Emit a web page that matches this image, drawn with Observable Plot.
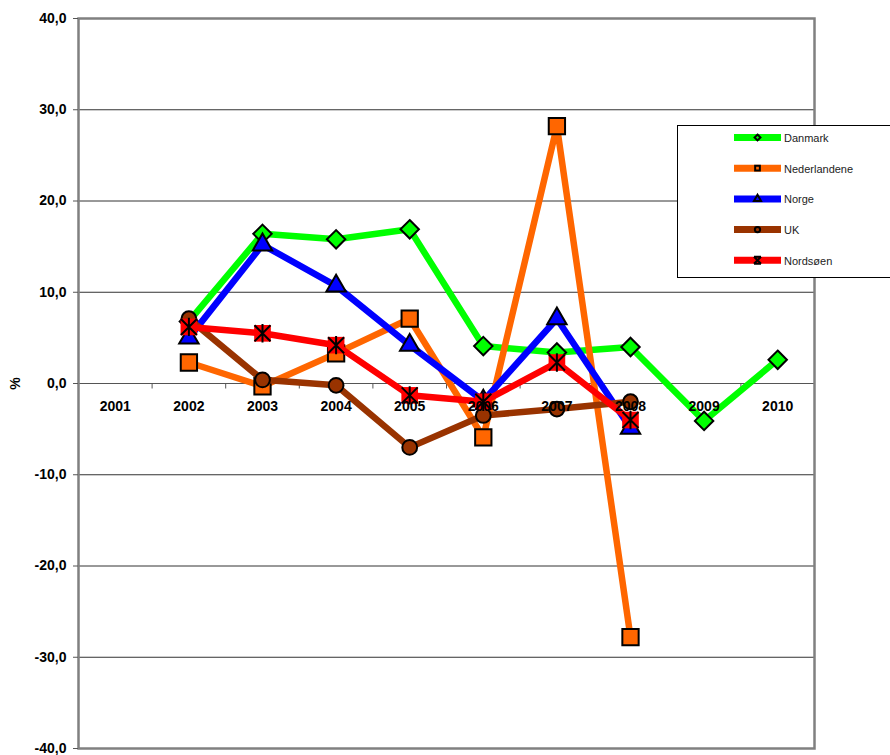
<!DOCTYPE html>
<html><head><meta charset="utf-8">
<script src="https://cdn.jsdelivr.net/npm/d3@7"></script>
<script src="https://cdn.jsdelivr.net/npm/@observablehq/plot@0.6"></script>
<style>
body{margin:0;background:#fff;font-family:"Liberation Sans",Arial,sans-serif;overflow:hidden}
#wrap{position:relative;width:890px;height:755px;overflow:hidden}
#legend{position:absolute;left:677px;top:125px;width:240px;height:153px;border:1px solid #000;background:#fff;box-sizing:border-box}
</style>
</head><body>
<div id="wrap"><div id="chart"></div><div id="legend"></div></div>
<script>
// ---- data ----
const years = [2001, 2002, 2003, 2004, 2005, 2006, 2007, 2008, 2009, 2010];
const seriesNames = ["Danmark", "Nederlandene", "Norge", "UK", "Nordsøen"];
const danmark      = [null, 6.8, 16.4, 15.8, 16.9, 4.1, 3.4, 4.0, -4.1, 2.6];
const nederlandene = [null, 2.3, -0.3, 3.3, 7.1, -5.9, 28.2, -27.8, null, null];
const norge        = [null, 5.0, 15.2, 10.7, 4.2, -1.9, 7.1, -4.9, null, null];
const uk           = [null, 7.1, 0.4, -0.2, -7.0, -3.5, -2.8, -2.0, null, null];
const nordsoen     = [null, 6.2, 5.5, 4.2, -1.3, -2.0, 2.3, -4.0, null, null];
const yTicks = [-40, -30, -20, -10, 0, 10, 20, 30, 40];
const yLabel = "%";

// ---- styling ----
const colors = ["#00FF00", "#FF6600", "#0000FF", "#993300", "#FF0000"];
const values = [danmark, nederlandene, norge, uk, nordsoen];

const asterisk = {draw(ctx, size) {
  const r = Math.sqrt(size / Math.PI);
  ctx.moveTo(-r, -r); ctx.lineTo(r, r);
  ctx.moveTo(-r, r); ctx.lineTo(r, -r);
  ctx.moveTo(0, -r * 1.15); ctx.lineTo(0, r * 1.15);
}};
const tickDown = {draw(ctx) { ctx.moveTo(0, 0); ctx.lineTo(0, 5); }};

const markerSpecs = [
  [{symbol: "diamond2", r: 8.3, stroke: "#000", strokeWidth: 2}],
  [{symbol: "square", r: 9.2, stroke: "#000", strokeWidth: 2}],
  [{symbol: "triangle", r: 7.2, stroke: "#000", strokeWidth: 2}],
  [{symbol: "circle", r: 7.4, stroke: "#000", strokeWidth: 2}],
  [{symbol: "square", r: 9.4, stroke: "none"}, {symbol: asterisk, r: 8, fill: "none", stroke: "#000", strokeWidth: 2}]
];

const seriesData = values.map((vals, si) =>
  years.map((yr, i) => ({series: seriesNames[si], year: yr, value: vals[i]})).filter(d => d.value != null));

const boundaries = [years[0] - 0.5, ...years.map(y => y + 0.5)];
const grid = yTicks.filter(t => t !== 0 && Math.abs(t) !== 40);
const fmt = d => d.toFixed(1).replace(".", ",");

const marks = [
  Plot.ruleY(grid, {stroke: "#333", strokeWidth: 1}),
  Plot.ruleY([0], {stroke: "#555", strokeWidth: 1}),
  Plot.dot(boundaries, {x: d => d, y: 0, symbol: tickDown, fill: "none", stroke: "#555", strokeWidth: 1}),
  Plot.frame({stroke: "#808080", strokeWidth: 2.5}),
  Plot.axisY(yTicks, {tickSize: 5, tickPadding: 7, tickFormat: fmt, fontWeight: "bold", fontSize: 14,
    stroke: "#555", fill: "#000", label: yLabel, labelAnchor: "center", labelOffset: 68, labelArrow: "none"})
];
seriesData.forEach((data, si) => {
  marks.push(Plot.line(data, {x: "year", y: "value", stroke: colors[si], strokeWidth: 6.5, strokeLinejoin: "round"}));
  markerSpecs[si].forEach(spec => {
    marks.push(Plot.dot(data, {x: "year", y: "value", fill: colors[si], ...spec}));
  });
});
marks.push(Plot.text(years, {x: d => d, y: 0, text: d => String(d), dy: 23, fontWeight: "bold", fontSize: 14, fill: "#000"}));

const chart = Plot.plot({
  width: 890, height: 755,
  marginLeft: 78, marginRight: 76, marginTop: 18, marginBottom: 7,
  x: {domain: [years[0] - 0.5, years[years.length - 1] + 0.5], axis: null},
  y: {domain: [yTicks[0], yTicks[yTicks.length - 1]], axis: null},
  style: {fontFamily: "'Liberation Sans', Arial, sans-serif", background: "#fff", color: "#000"},
  marks
});
document.getElementById("chart").appendChild(chart);

// ---- legend ----
const ns = "http://www.w3.org/2000/svg";
const lsvg = document.createElementNS(ns, "svg");
lsvg.setAttribute("width", 240); lsvg.setAttribute("height", 153);
const sym = [d3.symbolDiamond2, d3.symbolSquare, d3.symbolTriangle, d3.symbolCircle, null];
seriesNames.forEach((name, i) => {
  const cy = 11.5 + i * 30.7;
  const g = document.createElementNS(ns, "g");
  g.setAttribute("transform", `translate(0,${cy})`);
  const ln = document.createElementNS(ns, "line");
  ln.setAttribute("x1", 56); ln.setAttribute("x2", 103); ln.setAttribute("y1", 0); ln.setAttribute("y2", 0);
  ln.setAttribute("stroke", colors[i]); ln.setAttribute("stroke-width", 7);
  g.appendChild(ln);
  const p = document.createElementNS(ns, "path");
  if (sym[i]) {
    p.setAttribute("d", d3.symbol(sym[i], 22)());
    p.setAttribute("fill", colors[i]);
  } else {
    p.setAttribute("d", "M-3.5,-3.5L3.5,3.5M-3.5,3.5L3.5,-3.5M-3.5,-3.5H3.5M-3.5,3.5H3.5");
    p.setAttribute("fill", "none");
  }
  p.setAttribute("stroke", "#000"); p.setAttribute("stroke-width", 2);
  p.setAttribute("transform", "translate(79.5,0)");
  g.appendChild(p);
  const t = document.createElementNS(ns, "text");
  t.setAttribute("x", 106); t.setAttribute("y", 4.5);
  t.setAttribute("font-size", 11); t.setAttribute("fill", "#222");
  t.setAttribute("font-family", "'Liberation Sans', Arial, sans-serif");
  t.textContent = name;
  g.appendChild(t);
  lsvg.appendChild(g);
});
document.getElementById("legend").appendChild(lsvg);
</script>
</body></html>
